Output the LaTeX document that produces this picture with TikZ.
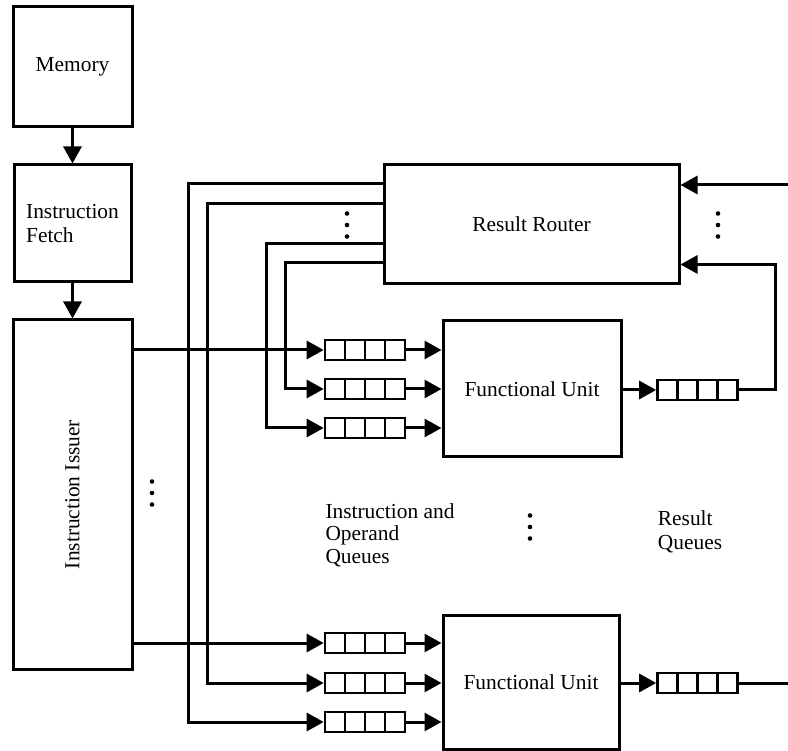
\documentclass[tikz,border=0pt]{standalone}
\usepackage{fontspec}
\setmainfont{Liberation Serif}
\usepackage{graphicx}
\usetikzlibrary{arrows.meta, calc, positioning}
\tikzstyle{block} = [rectangle, line width=3pt, text centered, draw=black]
\tikzstyle{queue} = [rectangle, line width=2.6pt, minimum width=80pt, minimum height=20pt, inner sep=0pt, draw=black,
	path picture={\foreach \k in {1,2,3} \draw [line width=2.6pt] ([xshift=\k*20pt]path picture bounding box.south west) -- ([xshift=\k*20pt]path picture bounding box.north west);}]
\tikzstyle{arrow} = [line width=3pt, -{Triangle[length=17pt,width=18pt]}]
\tikzstyle{line} = [line width=3pt]
\tikzstyle{dot} = [circle, fill=black, inner sep=0pt, minimum size=4.6pt]

\begin{document}
\begin{tikzpicture}[x=1pt, y=-1pt, every node/.style={font=\fontsize{21.4}{24}\selectfont}]
		\useasboundingbox (0,0) rectangle (788,751);
		% front end
		\node (Memory) [block, minimum width=119pt, minimum height=120pt] at (72.5,67) {Memory};
		\node (Fetch) [block, align=left, minimum width=117pt, minimum height=117pt, below = 35pt of Memory] {Instruction\\Fetch};
		\node (Issuer) [block, minimum width=119pt, minimum height=349pt, below = 35pt of Fetch] {\rotatebox{90}{Instruction Issuer}};
		% router and functional units
		\node (Router) [block, minimum width=295pt, minimum height=119pt] at (531.5,224.5) {Result Router};
		\node (UnitTop) [block, minimum width=178pt, minimum height=136pt] at (532,389) {Functional Unit};
		\node (UnitBottom) [block, minimum width=176pt, minimum height=134pt] at (531,682) {Functional Unit};
		% queues
		\node (QueueA1) [queue] at (365,350) {};
		\node (QueueA2) [queue] at (365,389) {};
		\node (QueueA3) [queue] at (365,428) {};
		\node (QueueB1) [queue] at (365,643) {};
		\node (QueueB2) [queue] at (365,683) {};
		\node (QueueB3) [queue] at (365,722) {};
		\node (OutQueueA) [queue] at (697.5,390) {};
		\node (OutQueueB) [queue] at (697.5,683) {};
		\node (QueueLabel) [align=left, font=\fontsize{21.4}{22.5}\selectfont] at (390,535) {Instruction and\\Operand\\Queues};
		\node (ResultLabel) [align=left] at (690,532) {Result\\Queues};
		% vertical dots
		\coordinate (DotsIssuer) at (152,493);
		\coordinate (DotsRouterLeft) at (347,225);
		\coordinate (DotsRouterRight) at (718,225);
		\coordinate (DotsMiddle) at (530,527);
		\foreach \d in {DotsIssuer, DotsRouterLeft, DotsRouterRight, DotsMiddle}
			\foreach \dy in {-11.5, 0, 11.5}
				\node [dot] at ($(\d)+(0,\dy)$) {};
		\coordinate (InRight) at (788,185);
		\coordinate (OutRight) at (788,683);
		% connections
		\draw [arrow] (Memory) -- (Fetch);
		\draw [arrow] (Fetch) -- (Issuer);
		\draw [arrow] (Issuer.east |- QueueA1) -- (QueueA1);
		\draw [arrow] (Issuer.east |- QueueB1) -- (QueueB1);
		\draw [arrow] ([yshift=-20pt]Router.north west) -- ++(-194,0) |- (QueueB3);
		\draw [arrow] ([yshift=-40pt]Router.north west) -- ++(-175,0) |- (QueueB2);
		\draw [arrow] ([yshift=-80pt]Router.north west) -- ++(-116,0) |- (QueueA3);
		\draw [arrow] ([yshift=-99pt]Router.north west) -- ++(-97,0) |- (QueueA2);
		\draw [arrow] (QueueA1) -- (UnitTop.west |- QueueA1);
		\draw [arrow] (QueueA2) -- (UnitTop.west |- QueueA2);
		\draw [arrow] (QueueA3) -- (UnitTop.west |- QueueA3);
		\draw [arrow] (QueueB1) -- (UnitBottom.west |- QueueB1);
		\draw [arrow] (QueueB2) -- (UnitBottom.west |- QueueB2);
		\draw [arrow] (QueueB3) -- (UnitBottom.west |- QueueB3);
		\draw [arrow] (UnitTop.east |- OutQueueA) -- (OutQueueA);
		\draw [arrow] (UnitBottom.east |- OutQueueB) -- (OutQueueB);
		\draw [arrow] (OutQueueA) -- ++(78,0) |- ([yshift=21pt]Router.south east);
		\draw [arrow] (InRight) -- (Router.east |- InRight);
		\draw [line] (OutQueueB) -- (OutRight);
\end{tikzpicture}
\end{document}
